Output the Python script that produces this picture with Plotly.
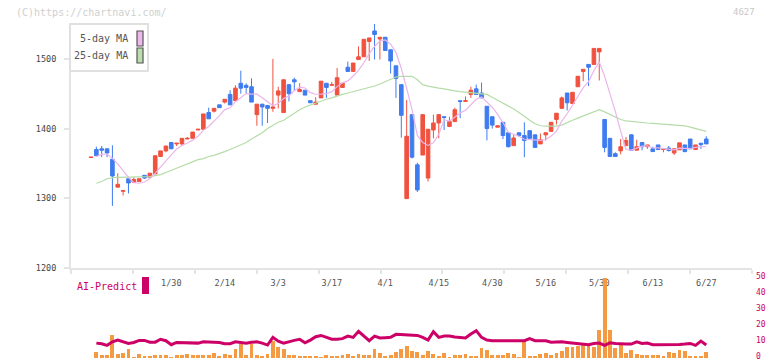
import plotly.graph_objects as go
import pandas as pd

# ---------------- data ----------------
tick_index = [15, 25, 35, 45, 55, 65, 75, 85, 95, 105, 115]
tick_labels = ['1/30', '2/14', '3/3', '3/17', '4/1', '4/15', '4/30', '5/16', '5/30', '6/13', '6/27']

opens = [1358.5, 1370, 1371, 1371, 1356, 1316, 1310, 1328, 1323, 1324,
         1333, 1330, 1335, 1360, 1368, 1380, 1378, 1378, 1385, 1386,
         1398, 1399, 1423, 1425, 1434, 1438, 1449, 1440, 1465, 1462,
         1460, 1420, 1435, 1433, 1429, 1448, 1423, 1463, 1470, 1453,
         1455, 1440, 1435, 1444, 1465, 1462, 1448, 1459, 1488, 1482,
         1499, 1503, 1525, 1540, 1528.5, 1531, 1513, 1490, 1463, 1299.5,
         1420, 1348, 1362, 1329, 1398, 1408, 1417, 1403, 1410, 1440,
         1439, 1449, 1457, 1451, 1432, 1417, 1402, 1409, 1394, 1375.5,
         1394, 1390, 1397, 1391, 1378, 1391, 1396, 1413, 1429, 1451,
         1436, 1460, 1482, 1492, 1492, 1510, 1413, 1386, 1364, 1368,
         1375.5, 1391, 1369, 1380, 1374, 1371, 1376.5, 1370, 1372, 1365,
         1369.5, 1376.5, 1385, 1370, 1379, 1385]

highs = [1359, 1374, 1375, 1371, 1376, 1336, 1311, 1328, 1330, 1328,
         1333, 1336, 1361, 1368, 1375, 1380, 1379, 1386, 1388, 1395,
         1399, 1421, 1430, 1429, 1434, 1442, 1455, 1462, 1483, 1465,
         1472, 1435, 1435, 1434, 1500, 1460, 1470, 1463, 1473, 1465,
         1455, 1440, 1445, 1468, 1465, 1467, 1487, 1465, 1496, 1494,
         1518, 1528, 1530, 1551, 1531, 1531, 1513, 1490, 1463, 1441,
         1420, 1351, 1420, 1399, 1420, 1420, 1417, 1417, 1430, 1440,
         1446, 1460, 1463, 1466, 1432, 1417, 1404, 1409, 1394, 1391,
         1395, 1409, 1397, 1391, 1393, 1394, 1409, 1422, 1446, 1451,
         1452, 1475, 1485, 1492, 1515, 1515, 1413, 1386, 1366, 1385,
         1388, 1392, 1384, 1380, 1376.5, 1374, 1376.5, 1371, 1375, 1371,
         1379.5, 1376.5, 1385, 1376.5, 1379, 1389]

lows = [1358.5, 1361, 1359, 1359, 1289, 1316, 1304, 1307, 1323, 1324,
        1328, 1330, 1335, 1360, 1366, 1371, 1375, 1376, 1385, 1386,
        1398, 1399, 1414, 1423, 1430, 1436, 1434, 1440, 1450, 1451,
        1438, 1404, 1404, 1408, 1424, 1429, 1423, 1439, 1454, 1453,
        1448, 1437, 1435, 1444, 1444, 1462, 1448, 1459, 1482, 1482,
        1499, 1503, 1497, 1499, 1499, 1512, 1479, 1444, 1387, 1299.5,
        1357, 1309, 1362, 1324, 1386, 1386, 1398, 1403, 1410, 1415,
        1439, 1444, 1449, 1444, 1383, 1400, 1402, 1385, 1373, 1375.5,
        1388, 1359, 1386, 1373, 1378, 1383, 1396, 1406, 1429, 1426,
        1436, 1460, 1468, 1461, 1492, 1469, 1366, 1360, 1360, 1363,
        1375.5, 1369, 1369, 1369, 1371, 1367, 1370, 1366, 1367, 1362,
        1369.5, 1366, 1371, 1370, 1371, 1378]

closes = [1359, 1361, 1369, 1365, 1332, 1320, 1311, 1322, 1327, 1328,
          1329, 1336, 1361, 1368, 1375, 1371, 1379, 1386, 1386, 1395,
          1399, 1421, 1414, 1429, 1430, 1442, 1434, 1458, 1458, 1459,
          1438, 1435, 1431, 1429, 1431, 1454, 1470, 1450, 1467, 1456,
          1448, 1437, 1438, 1468, 1459, 1463, 1473, 1465, 1482, 1494,
          1503, 1528, 1530, 1535, 1531, 1512, 1497, 1472, 1419, 1389,
          1359, 1312, 1420, 1399, 1408, 1420, 1416, 1410, 1427, 1439,
          1440, 1455, 1449, 1444, 1400, 1405, 1404, 1390, 1374, 1386.5,
          1390, 1383, 1386, 1373, 1384, 1394, 1409, 1422, 1444, 1437,
          1452, 1475, 1485, 1488, 1515, 1515, 1373, 1360, 1360, 1374,
          1383, 1369, 1374, 1374, 1376.5, 1367, 1370, 1371, 1368.5, 1371,
          1379.5, 1367, 1371, 1376.5, 1377, 1378]

ma25 = [None,
        1321.5, 1324, 1328, 1329.6, 1330, 1330, 1330, 1330, 1330, 1330,
        1331, 1332.5, 1334, 1337, 1340, 1343, 1346, 1349, 1352.5, 1355.5,
        1357, 1360, 1361.6, 1364, 1367, 1370, 1373, 1376, 1380, 1385,
        1389, 1394, 1400, 1405, 1409, 1412, 1417, 1423, 1427, 1431,
        1434, 1437, 1440, 1442, 1444, 1447, 1449, 1451, 1453, 1455,
        1457, 1458, 1461, 1464, 1467, 1470, 1474, 1475, 1475.5, 1475,
        1470, 1463, 1461, 1459, 1458, 1457, 1455, 1454, 1453, 1452,
        1451.5, 1451, 1450, 1449, 1445, 1441, 1437, 1433, 1428, 1423,
        1417, 1412, 1407, 1404, 1403.5, 1403.5, 1403.5, 1405, 1409, 1412,
        1415, 1418, 1422, 1425, 1427, 1424, 1420, 1416, 1413, 1411,
        1410, 1409, 1409, 1408, 1407.5, 1407, 1406.5, 1406, 1406, 1405,
        1404, 1402, 1400, 1398, 1396]

ai_bars = [None,
           3.8, 1.9, 1.9, 14.4, 2.5, 3.1, 5.6, 0.6, 2.5, 1.3,
           1.3, 1.9, 1.9, 1.9, 0.6, 1.9, 1.9, 2.5, 1.9, 1.9,
           1.9, 1.9, 3.1, 1.3, 2.5, 1.9, 5.6, 8.8, 1.9, 8.8,
           1.9, 1.3, 2.5, 10.7, 6.9, 5.6, 1.9, 1.9, 1.3, 1.3,
           1.3, 1.3, 0.6, 1.9, 1.3, 1.3, 1.9, 2.5, 1.3, 2.5,
           1.9, 1.9, 5.6, 3.1, 1.3, 1.9, 3.8, 5.6, 7.5, 4.4,
           3.8, 1.9, 4.4, 2.5, 1.3, 3.1, 0.6, 1.9, 1.9, 2.5,
           1.3, 1.3, 6.3, 5.0, 1.9, 1.9, 1.9, 3.1, 2.5, 0.6,
           10.7, 1.3, 1.3, 2.5, 3.1, 1.9, 3.1, 4.4, 6.9, 6.9,
           7.5, 8.8, 8.8, 6.9, 17.6, 50.0, 17.6, 6.3, 8.2, 3.1,
           5.0, 2.5, 1.9, 1.9, 1.9, 1.9, 1.3, 3.8, 3.1, 5.0,
           4.4, 1.3, 1.3, 1.3, 3.8]

ai_line = [None,
           9.2, 8.8, 7.8, 10.0, 11.1, 10.0, 9.0, 9.6, 10.9, 10.9,
           9.8, 9.8, 11.6, 10.7, 8.2, 9.6, 9.6, 9.2, 9.2, 9.2,
           10.0, 10.0, 10.0, 9.6, 8.8, 8.8, 10.0, 9.8, 9.2, 9.8,
           10.0, 9.2, 8.0, 12.8, 10.4, 9.2, 10.2, 10.9, 11.6, 9.4,
           11.1, 13.2, 14.0, 12.8, 11.6, 11.6, 12.0, 13.6, 12.8, 16.6,
           13.6, 10.7, 13.6, 12.4, 12.6, 12.8, 14.7, 14.5, 14.2, 14.2,
           14.0, 12.8, 11.1, 16.3, 12.8, 13.6, 13.6, 13.0, 12.8, 12.4,
           14.9, 17.0, 12.8, 11.1, 10.7, 10.7, 10.3, 10.3, 10.5, 10.3,
           10.7, 12.0, 10.7, 10.7, 10.7, 9.8, 10.0, 10.0, 9.6, 9.2,
           9.0, 8.6, 8.2, 9.0, 9.2, 7.8, 9.4, 9.0, 8.6, 8.6,
           8.6, 10.0, 9.0, 9.2, 8.2, 8.2, 8.0, 8.0, 8.0, 8.4,
           8.6, 9.0, 7.8, 10.5, 8.0]

price_ticks = [1200, 1300, 1400, 1500]
ai_ticks = [0, 10, 20, 30, 40, 50]

# ---------------- derived ----------------
idx = list(range(len(closes)))
ma5 = pd.Series(closes).rolling(5, min_periods=1).mean().tolist()
ma5[0] = None

W, H = 772, 361
def px(x): return x / W
def py(y): return 1 - y / H

RED = '#F0523F'
BLUE = '#3F7CF0'
FONT = 'DejaVu Sans Mono'
MAG = '#CC0066'

x_lo, x_hi = -3.74, 123.55
grid_ticks = [x_lo + k * (x_hi - x_lo) / 11 for k in range(12)]

fig = go.Figure()
fig.add_trace(go.Scatter(x=idx, y=ma25, mode='lines', line=dict(color='#B5DCA8', width=1.2),
                         xaxis='x', yaxis='y', showlegend=False, hoverinfo='skip'))
fig.add_trace(go.Scatter(x=idx, y=ma5, mode='lines', line=dict(color='#EBB5EB', width=1.2),
                         xaxis='x', yaxis='y', showlegend=False, hoverinfo='skip'))
fig.add_trace(go.Candlestick(x=idx, open=opens, high=highs, low=lows, close=closes,
                             increasing=dict(line=dict(color=RED, width=1), fillcolor=RED),
                             decreasing=dict(line=dict(color=BLUE, width=1), fillcolor=BLUE),
                             whiskerwidth=0, xaxis='x', yaxis='y', showlegend=False))
fig.add_trace(go.Bar(x=idx, y=ai_bars, width=0.72, marker=dict(color='#F39A42', line=dict(width=0)),
                     xaxis='x2', yaxis='y2', showlegend=False))
fig.add_trace(go.Scatter(x=idx, y=ai_line, mode='lines', line=dict(color=MAG, width=3),
                         xaxis='x2', yaxis='y2', showlegend=False))

fig.update_layout(
    width=W, height=H, autosize=False,
    margin=dict(l=0, r=0, t=0, b=0, pad=0, autoexpand=False),
    paper_bgcolor='white', plot_bgcolor='white',
    boxgap=0.18, boxgroupgap=0.18,
    bargap=0,
    xaxis=dict(domain=[px(71), px(752)], range=[x_lo, x_hi], anchor='y',
               rangeslider=dict(visible=False),
               showline=True, linecolor='#E4E4E4', linewidth=2,
               tickmode='array', tickvals=tick_index, ticktext=tick_labels,
               ticks='', showgrid=False, zeroline=False,
               tickfont=dict(family=FONT, size=8.5, color='#555555'),
               ticklabelstandoff=6,
               minor=dict(tickmode='array', tickvals=grid_ticks, ticks='outside',
                          ticklen=4, tickwidth=2, tickcolor='#E4E4E4', showgrid=False)),
    yaxis=dict(domain=[py(268), py(24)], range=[1200, 1550], anchor='x',
               showline=True, linecolor='#E4E4E4', linewidth=2,
               tickmode='array', tickvals=price_ticks,
               ticks='outside', ticklen=5, tickwidth=1.5, tickcolor='#E4E4E4',
               showgrid=False, zeroline=False,
               tickfont=dict(family=FONT, size=8.5, color='#444444'),
               ticklabelstandoff=6),
    xaxis2=dict(domain=[px(71), px(752)], range=[x_lo, x_hi], anchor='y2', matches='x',
                visible=False),
    yaxis2=dict(domain=[py(358), py(277.7)], range=[-0.1, 50.1], anchor='x2', side='right',
                showline=False, showgrid=False, zeroline=False, ticks='',
                tickmode='array', tickvals=ai_ticks,
                tickfont=dict(family=FONT, size=8, color=MAG),
                ticklabelstandoff=3, ticklabelshift=-2, ticklabeloverflow='allow'),
)

shapes = [
    dict(type='rect', xref='paper', yref='paper', x0=px(70), x1=px(148), y0=py(71), y1=py(24),
         line=dict(color='#E0E0E0', width=2), fillcolor='white', layer='above'),
    dict(type='rect', xref='paper', yref='paper', x0=px(137), x1=px(143), y0=py(46), y1=py(31),
         line=dict(color='#555555', width=1.2), fillcolor='#EDB8ED', layer='above'),
    dict(type='rect', xref='paper', yref='paper', x0=px(137), x1=px(143), y0=py(63), y1=py(48),
         line=dict(color='#555555', width=1.2), fillcolor='#BCDEAE', layer='above'),
    dict(type='rect', xref='paper', yref='paper', x0=px(142), x1=px(149), y0=py(294), y1=py(277),
         line=dict(width=0), fillcolor=MAG, layer='above'),
]
annotations = [
    dict(text='(C)https://chartnavi.com/', x=px(14), y=py(12), xref='paper', yref='paper',
         xanchor='left', yanchor='middle', showarrow=False,
         font=dict(family=FONT, size=10, color='#CFCFCF')),
    dict(text='4627', x=px(757), y=py(12), xref='paper', yref='paper',
         xanchor='right', yanchor='middle', showarrow=False,
         font=dict(family=FONT, size=9, color='#C8C8C8')),
    dict(text='5-day MA', x=px(130), y=py(39), xref='paper', yref='paper',
         xanchor='right', yanchor='middle', showarrow=False,
         font=dict(family=FONT, size=10, color='#555555')),
    dict(text='25-day MA', x=px(130), y=py(56), xref='paper', yref='paper',
         xanchor='right', yanchor='middle', showarrow=False,
         font=dict(family=FONT, size=10, color='#555555')),
    dict(text='AI-Predict', x=px(75), y=py(286), xref='paper', yref='paper',
         xanchor='left', yanchor='middle', showarrow=False,
         font=dict(family=FONT, size=10, color=MAG)),
]
fig.update_layout(shapes=shapes, annotations=annotations)

fig.write_html('out.html', config={'displayModeBar': False},
               post_script="document.body.style.margin='0';document.body.style.padding='0';")
